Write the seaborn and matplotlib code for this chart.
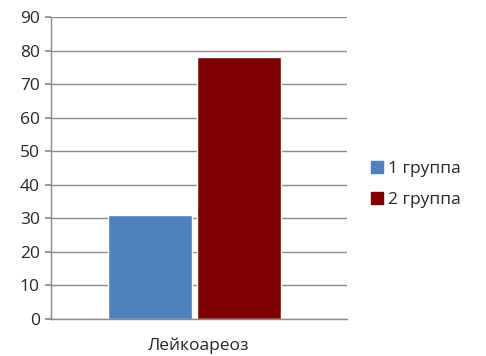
import matplotlib.pyplot as plt
import pandas as pd
import seaborn as sns

# данные
categories = ["Лейкоареоз"]
groups = ["1 группа", "2 группа"]
values = [31, 78]
colors = ["#4F81BD", "#7F0000"]

df = pd.DataFrame({
    "cat": categories * len(groups),
    "group": groups,
    "value": values,
})

sns.set_theme(style="white")
plt.rcParams["font.family"] = ["Open Sans", "DejaVu Sans"]

fig = plt.figure(figsize=(4.86, 3.56), dpi=100)
ax = fig.add_axes([0.105, 0.104, 0.609, 0.848])

sns.barplot(data=df, x="cat", y="value", hue="group", palette=colors,
            width=0.6, gap=0.05, saturation=1, legend=False, ax=ax)

ax.set_ylim(0, 90)
ax.set_yticks(range(0, 91, 10))
ax.set_xlim(-0.485, 0.515)
ax.yaxis.grid(True, color="#8C8C8C", linewidth=1)
ax.set_axisbelow(True)

for s in ["top", "right"]:
    ax.spines[s].set_visible(False)
for s in ["left", "bottom"]:
    ax.spines[s].set_color("#8C8C8C")
    ax.spines[s].set_linewidth(1)

ax.tick_params(axis="y", left=True, length=4, color="#8C8C8C", labelsize=12.5, pad=4)
ax.tick_params(axis="x", bottom=False, labelsize=12.5, pad=7)
ax.set_xticks([0.015])
ax.set_xticklabels(categories)
ax.set_xlabel("")
ax.set_ylabel("")

# легенда справа
handles = [plt.Line2D([], [], marker="s", linestyle="", markersize=8,
                      color=c) for c in colors]
fig.legend(handles, groups, loc="center left", bbox_to_anchor=(0.732, 0.483),
           frameon=False, fontsize=12.5, handlelength=0.6, handletextpad=0.35,
           labelspacing=0.85)

fig.savefig("out.png", dpi=100)
